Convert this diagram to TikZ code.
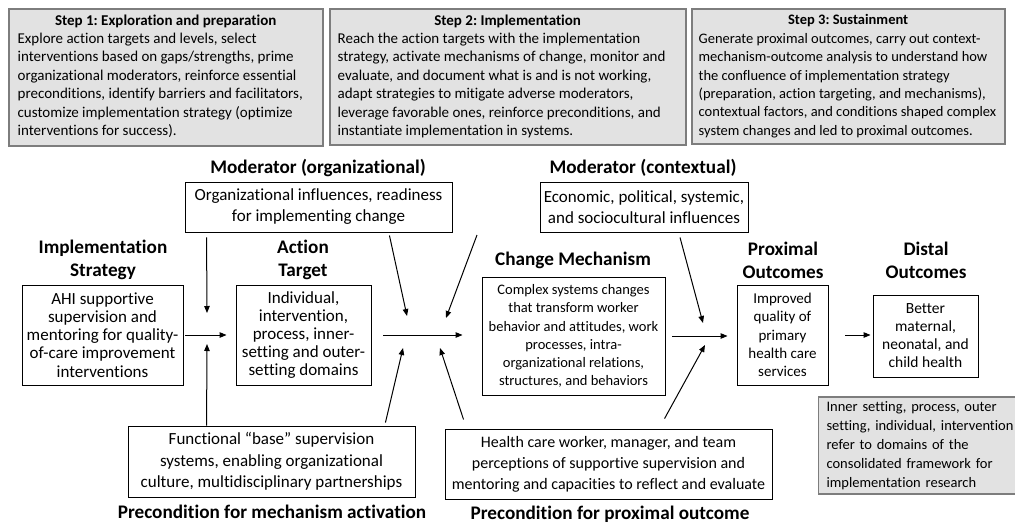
\documentclass[tikz,border=0pt]{standalone}
\usepackage{fontspec}
\setmainfont{Carlito}[Ligatures={NoCommon}]
\usetikzlibrary{arrows.meta,calc}
\definecolor{stepfill}{RGB}{226,226,226}
\definecolor{stepline}{RGB}{125,125,125}
\setlength{\parindent}{0pt}
\frenchspacing
\begin{document}
\frenchspacing
\begin{tikzpicture}[x=1pt,y=-1pt,
  stepbox/.style={draw=stepline, fill=stepfill, line width=1.1pt, inner sep=0pt},
  steptext/.style={inner sep=0pt, align=left, anchor=north west, font=\fontsize{15}{18.4}\selectfont},
  notebox/.style={draw=stepline, fill=stepfill, line width=1.1pt, inner xsep=8pt, inner ysep=0pt, font=\fontsize{14.5}{19}\selectfont},
  box/.style={draw=black, line width=0.9pt, fill=white, inner sep=0pt, align=center},
  head/.style={font=\bfseries\fontsize{19.2}{23}\selectfont, align=center, inner sep=0pt},
  arr/.style={-{Triangle[length=7pt,width=5.5pt]}, line width=1pt}
]
\fill[white] (0,0) rectangle (1015,523);
\useasboundingbox (0,0) rectangle (1015,523);

% step boxes
\node[stepbox, minimum width=314pt, minimum height=137pt] (s1) at (166,77.5) {};
\node[steptext] (t1) at ($(s1.north west)+(9,6)$)
 {\makebox[296pt]{\bfseries Step 1: Exploration and preparation}\\
  Explore action targets and levels, select\\
  interventions based on gaps/strengths, prime\\
  organizational moderators, reinforce essential\\
  preconditions, identify barriers and facilitators,\\
  customize implementation strategy (optimize\\
  interventions for success).};
\node[stepbox, minimum width=356pt, minimum height=136pt] (s2) at (508,77) {};
\node[steptext] (t2) at ($(s2.north west)+(8,6)$)
 {\makebox[340pt]{\bfseries Step 2: Implementation}\\
  Reach the action targets with the implementation\\
  strategy, activate mechanisms of change, monitor and\\
  evaluate, and document what is and is not working,\\
  adapt strategies to mitigate adverse moderators,\\
  leverage favorable ones, reinforce preconditions, and\\
  instantiate implementation in systems.};
\node[stepbox, minimum width=313pt, minimum height=135pt] (s3) at (848.5,76.5) {};
\node[steptext, font=\fontsize{14.5}{18.4}\selectfont] (t3) at ($(s3.north west)+(7,6)$)
 {\makebox[299pt]{\bfseries Step 3: Sustainment}\\
  Generate proximal outcomes, carry out context-\\
  mechanism-outcome analysis to understand how\\
  the confluence of implementation strategy\\
  (preparation, action targeting, and mechanisms),\\
  contextual factors, and conditions shaped complex\\
  system changes and led to proximal outcomes.};

% headings
\node[head] (hmodorg) at (318,168) {Moderator (organizational)};
\node[head] (hmodctx) at (643,168) {Moderator (contextual)};
\node[head] (himpl) at (103,260) {Implementation\\Strategy};
\node[head] (hact) at (303,260) {Action\\Target};
\node[head] (hcm) at (573,260) {Change Mechanism};
\node[head] (hprox) at (783,260) {Proximal\\Outcomes};
\node[head] (hdist) at (926,260) {Distal\\Outcomes};
\node[head] (hpre1) at (272,512) {Precondition for mechanism activation};
\node[head] (hpre2) at (610,514) {Precondition for proximal outcome};

% boxes
\node[box, minimum width=267pt, minimum height=50pt, font=\fontsize{17}{21}\selectfont] (org) at (318.5,207)
 {Organizational influences, readiness\\for implementing change};
\node[box, minimum width=208pt, minimum height=50pt, font=\fontsize{17}{21}\selectfont] (ctx) at (644,207)
 {Economic, political, systemic,\\and sociocultural influences};
\node[box, minimum width=161pt, minimum height=100pt, font=\fontsize{17}{18.2}\selectfont] (impl) at (102.5,335)
 {AHI supportive\\supervision and\\mentoring for quality-\\of-care improvement\\interventions};
\node[box, minimum width=135pt, minimum height=100pt, font=\fontsize{17}{18.2}\selectfont] (act) at (303.5,335)
 {Individual,\\intervention,\\process, inner-\\setting and outer-\\setting domains};
\node[box, minimum width=183pt, minimum height=118pt, font=\fontsize{14.5}{18.2}\selectfont] (cm) at (573.5,336)
 {Complex systems changes\\that transform worker\\behavior and attitudes, work\\processes, intra-\\organizational relations,\\structures, and behaviors};
\node[box, minimum width=91pt, minimum height=100pt, font=\fontsize{15}{18.3}\selectfont] (prox) at (782.5,335)
 {Improved\\quality of\\primary\\health care\\services};
\node[box, minimum width=105pt, minimum height=82pt, font=\fontsize{15.5}{18}\selectfont] (dist) at (925.5,336)
 {Better\\maternal,\\neonatal, and\\child health};
\node[box, minimum width=287pt, minimum height=71pt, font=\fontsize{17}{21.5}\selectfont] (func) at (271.5,461.5)
 {Functional “base” supervision\\systems, enabling organizational\\culture, multidisciplinary partnerships};
\node[box, minimum width=327pt, minimum height=70pt, font=\fontsize{16}{21}\selectfont] (health) at (608.5,464)
 {Health care worker, manager, and team\\perceptions of supportive supervision and\\mentoring and capacities to reflect and evaluate};

\begin{scope}
\clip (0,0) rectangle (1015,523);
\node[notebox, anchor=west, minimum width=230pt, minimum height=97pt, text width=214pt, align=left] (note) at (818,445.5)
 {Inner setting, process, outer\\setting, individual, intervention\\refer to domains of the\\consolidated framework for\\implementation research};
\end{scope}

% junctions
\coordinate (j1) at (207,336);
\coordinate (j2) at (424,336);
\coordinate (j3) at (700,336);
\coordinate (ctxfree) at (477,235);

% main chain
\draw[arr, shorten <=2pt, shorten >=9pt] (impl.east) -- (impl.east -| act.west);
\draw[arr, shorten <=12pt, shorten >=19pt] (act.east) -- (act.east -| cm.west);
\draw[arr, shorten <=7pt, shorten >=9pt] (cm.east) -- (cm.east -| prox.west);
\draw[arr, shorten <=17pt, shorten >=2pt] (prox.east) -- (prox.east -| dist.west);

% influences
\draw[arr] ($(org.south west)+(22,5)$) -- ($(j1)+(0,-23)$);
\draw[arr] ($(func.north west)+(79,0)$) -- ($(j1)+(0,8)$);
\draw[arr] ($(org.south east)+(-63,3)$) -- ($(j2)+(-17,-20)$);
\draw[arr] (ctxfree) -- ($(j2)+(22,-18)$);
\draw[arr] ($(func.north east)+(-30,-3)$) -- ($(j2)+(-21,12)$);
\draw[arr] ($(health.north west)+(19,-9)$) -- ($(j2)+(16,12)$);
\draw[arr] ($(ctx.south)+(36,5)$) -- ($(j3)+(3,-13)$);
\draw[arr] ($(health.north west)+(220,-10)$) -- ($(j3)+(5,9)$);
\end{tikzpicture}
\end{document}
